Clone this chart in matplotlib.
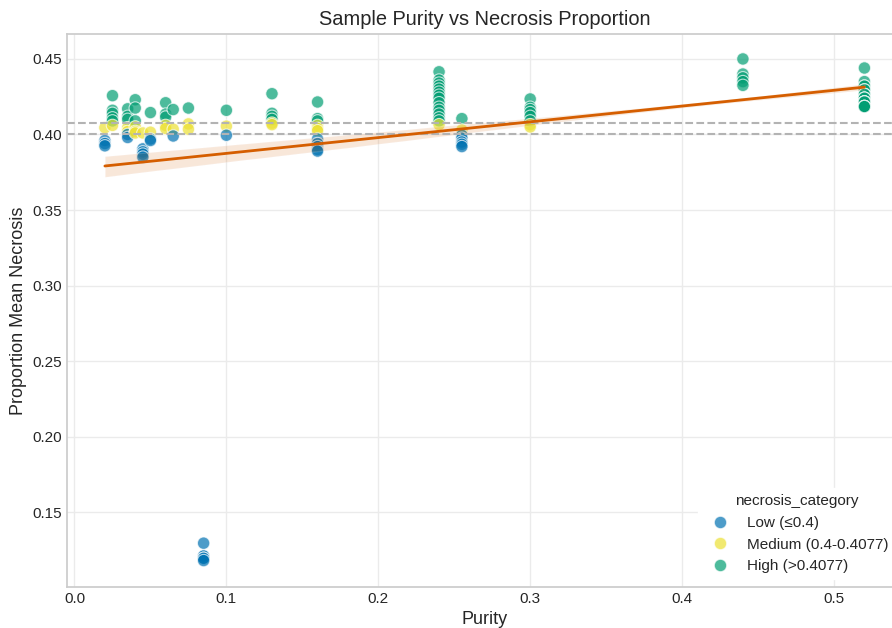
import matplotlib
matplotlib.use("Agg")
import matplotlib.pyplot as plt
import seaborn as sns
import numpy as np
import pandas as pd

# ---- data ----
purity_groups = [0.02, 0.025, 0.035, 0.04, 0.045, 0.05, 0.06, 0.065, 0.075,
                 0.085, 0.10, 0.13, 0.16, 0.24, 0.255, 0.30, 0.44, 0.52]
necrosis_groups = [
    [0.396, 0.394, 0.3925, 0.4045],
    [0.4257, 0.416, 0.414, 0.411, 0.409, 0.406],
    [0.417, 0.412, 0.410, 0.4045, 0.402, 0.400, 0.398],
    [0.423, 0.4175, 0.409, 0.405, 0.402, 0.401],
    [0.3905, 0.3885, 0.387, 0.385, 0.401],
    [0.4145, 0.4015, 0.397, 0.396],
    [0.421, 0.4135, 0.4115, 0.406, 0.404],
    [0.4165, 0.4035, 0.399],
    [0.4175, 0.407, 0.4035],
    [0.1295, 0.121, 0.1195, 0.118],
    [0.416, 0.4055, 0.3995],
    [0.427, 0.414, 0.412, 0.410, 0.4075, 0.4065],
    [0.4215, 0.4105, 0.409, 0.406, 0.404, 0.4025, 0.397, 0.394, 0.392, 0.390, 0.389],
    [0.4415, 0.436, 0.434, 0.432, 0.430, 0.428, 0.426, 0.424, 0.421, 0.418,
     0.416, 0.4135, 0.411, 0.409, 0.4065],
    [0.4105, 0.403, 0.3995, 0.3975, 0.395, 0.3935, 0.392],
    [0.4235, 0.418, 0.4165, 0.4145, 0.412, 0.409, 0.4065, 0.405],
    [0.450, 0.440, 0.4375, 0.435, 0.4325],
    [0.444, 0.435, 0.432, 0.4295, 0.4265, 0.424, 0.4215, 0.4185],
]
# samples stacked on the same spot (darker overlapping markers)
sample_counts = [
    [1, 1, 1, 1],
    [1, 1, 1, 1, 1, 1],
    [1, 1, 1, 1, 1, 1, 1],
    [1, 1, 1, 1, 1, 1],
    [1, 1, 1, 1, 1],
    [1, 1, 1, 1],
    [1, 1, 1, 1, 1],
    [1, 1, 1],
    [1, 1, 1],
    [1, 2, 2, 1],
    [1, 1, 1],
    [1, 1, 1, 1, 1, 1],
    [1, 1, 1, 1, 1, 1, 1, 1, 1, 1, 1],
    [1, 1, 1, 1, 1, 1, 1, 1, 1, 1, 1, 1, 1, 1, 1],
    [1, 1, 1, 1, 1, 1, 1],
    [1, 1, 1, 1, 1, 1, 1, 1],
    [1, 1, 1, 1, 1],
    [1, 1, 2, 2, 3, 3, 4, 4],
]

low_thr = 0.4
high_thr = 0.4077
category_labels = ["Low (≤0.4)", "Medium (0.4-0.4077)", "High (>0.4077)"]
category_colors = ["#0173b2", "#ece133", "#029e73"]

purity = []
necrosis = []
for xv, ys, cs in zip(purity_groups, necrosis_groups, sample_counts):
    for yv, c in zip(ys, cs):
        purity.extend([xv] * c)
        necrosis.extend([yv] * c)
purity = np.array(purity)
necrosis = np.array(necrosis)
cat = np.where(necrosis <= low_thr, category_labels[0],
               np.where(necrosis <= high_thr, category_labels[1], category_labels[2]))
df = pd.DataFrame({"Purity": purity, "necrosis": necrosis, "necrosis_category": cat})

sns.set_theme(style="whitegrid")
plt.rcParams['font.family'] = ['Liberation Sans', 'DejaVu Sans']

fig = plt.figure(figsize=(8.92, 6.28), dpi=100)
ax = fig.add_axes([66.9 / 892, 41.0 / 628, 835.5 / 892, 553.3 / 628])

sns.scatterplot(data=df, x="Purity", y="necrosis", hue="necrosis_category",
                hue_order=category_labels, palette=category_colors,
                s=80, alpha=0.7, edgecolor="white", linewidth=0.8, ax=ax)
sns.regplot(data=df, x="Purity", y="necrosis", scatter=False, ci=50, seed=0,
            color="#d55e00", line_kws={"linewidth": 2}, ax=ax)

ax.axhline(low_thr, color="#b3b3b3", linestyle="--", linewidth=1.5, zorder=1)
ax.axhline(high_thr, color="#b3b3b3", linestyle="--", linewidth=1.5, zorder=1)

ax.set_xlim(-0.005, 0.545)
ax.set_ylim(0.1005, 0.4667)
ax.set_xticks([0.0, 0.1, 0.2, 0.3, 0.4, 0.5])
ax.set_yticks([0.15, 0.20, 0.25, 0.30, 0.35, 0.40, 0.45])
ax.tick_params(labelsize=11, length=0, pad=3.5)
ax.set_xlabel("Purity", fontsize=13)
ax.set_ylabel("Proportion Mean Necrosis", fontsize=13)
ax.set_title("Sample Purity vs Necrosis Proportion", fontsize=14.4)
ax.grid(color="#ebebeb")
for s in ax.spines.values():
    s.set_color("#cccccc")

leg = ax.legend(title="necrosis_category", loc="lower right",
                bbox_to_anchor=(1.0, 0.0), fontsize=11, title_fontsize=11,
                frameon=True, facecolor="white", edgecolor="white", framealpha=1.0)

fig.savefig("out.png", dpi=100)
